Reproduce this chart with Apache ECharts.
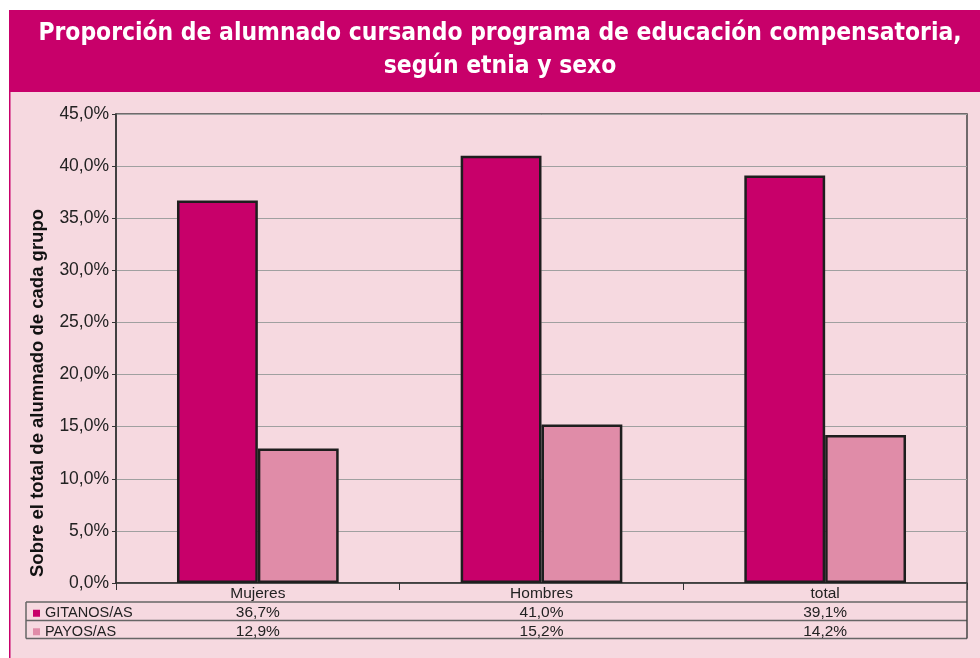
<!DOCTYPE html>
<html>
<head>
<meta charset="utf-8">
<script src="https://cdn.jsdelivr.net/npm/echarts@6/dist/echarts.min.js"></script>
<style>
html,body{margin:0;padding:0;background:#fff;}
#c{width:980px;height:658px;}
</style>
</head>
<body>
<div id="c"></div>
<script>
var categories = ['Mujeres', 'Hombres', 'total'];
var seriesNames = ['GITANOS/AS', 'PAYOS/AS'];
var gitanos = [36.7, 41.0, 39.1];
var payos = [12.9, 15.2, 14.2];
var titleLines = ['Proporción de alumnado cursando programa de educación compensatoria,', 'según etnia y sexo'];
var yAxisTitle = 'Sobre el total de alumnado de cada grupo';

var MAGENTA = '#C8006A';
var LIGHT = '#E08CA8';
var BG = '#F6D9E0';

function pct(v) { return v.toFixed(1).replace('.', ',') + '%'; }

var chart = echarts.init(document.getElementById('c'), null, {renderer: 'canvas'});

var tableLine = {stroke: '#666', lineWidth: 1.5};
var titleFont = 'bold 24.4px "DejaVu Sans Condensed", "DejaVu Sans", sans-serif';

var option = {
  backgroundColor: '#ffffff',
  animation: false,
  textStyle: {fontFamily: 'Liberation Sans, Arial, sans-serif'},
  grid: {
    left: 116, right: 13, top: 114, bottom: 75,
    show: true, borderColor: '#444', borderWidth: 1.5, backgroundColor: 'transparent'
  },
  legend: {
    orient: 'vertical', left: 33, top: 604, padding: 0, itemGap: 0,
    itemWidth: 7, itemHeight: 7, icon: 'rect',
    itemStyle: {borderWidth: 0},
    textStyle: {fontSize: 14.5, color: '#222', lineHeight: 18.5},
    data: seriesNames
  },
  xAxis: {
    type: 'category', data: categories,
    axisLine: {lineStyle: {color: '#333', width: 1.5}},
    axisTick: {show: true, length: 7, lineStyle: {color: '#333', width: 1}},
    axisLabel: {
      margin: 1, interval: 0,
      formatter: function (v, i) {
        return '{c|' + v + '}\n{v|' + pct(gitanos[i]) + '}\n{v|' + pct(payos[i]) + '}';
      },
      rich: {
        c: {fontSize: 15.5, color: '#222', lineHeight: 19.5},
        v: {fontSize: 15.5, color: '#222', lineHeight: 19}
      }
    }
  },
  yAxis: {
    type: 'value', min: 0, max: 45, interval: 5,
    axisLine: {show: true, lineStyle: {color: '#333', width: 1.5}},
    axisTick: {show: true, length: 4, lineStyle: {color: '#333'}},
    axisLabel: {margin: 7, fontSize: 17.5, color: '#222', formatter: function (v) { return pct(v); }},
    splitLine: {lineStyle: {color: '#a0a0a0', width: 1}}
  },
  series: [
    {
      name: seriesNames[0], type: 'bar', data: gitanos,
      barGap: '0%', barCategoryGap: '43%',
      itemStyle: {color: MAGENTA, borderColor: '#1e1e1e', borderWidth: 2.5}
    },
    {
      name: seriesNames[1], type: 'bar', data: payos,
      itemStyle: {color: LIGHT, borderColor: '#1e1e1e', borderWidth: 2.5}
    }
  ],
  graphic: [
    {type: 'rect', z: -10, silent: true, shape: {x: 9, y: 92, width: 971, height: 566}, style: {fill: BG}},
    {type: 'rect', z: -9, silent: true, shape: {x: 9, y: 92, width: 1.5, height: 566}, style: {fill: MAGENTA}},
    {type: 'rect', z: -9, silent: true, shape: {x: 9, y: 10, width: 971, height: 82}, style: {fill: MAGENTA}},
    {type: 'text', silent: true, x: 500, y: 34, style: {
      text: titleLines[0], fill: '#fff', align: 'center', verticalAlign: 'middle', font: titleFont}},
    {type: 'text', silent: true, x: 500, y: 67, style: {
      text: titleLines[1], fill: '#fff', align: 'center', verticalAlign: 'middle', font: titleFont}},
    {type: 'text', silent: true, x: 38, y: 393, rotation: Math.PI / 2, style: {
      text: yAxisTitle, fill: '#111', align: 'center', verticalAlign: 'middle',
      font: 'bold 18.5px "Liberation Sans", Arial, sans-serif'}},
    {type: 'line', silent: true, shape: {x1: 26, y1: 602, x2: 967, y2: 602}, style: tableLine},
    {type: 'line', silent: true, shape: {x1: 26, y1: 620.5, x2: 967, y2: 620.5}, style: tableLine},
    {type: 'line', silent: true, shape: {x1: 26, y1: 638.5, x2: 967, y2: 638.5}, style: tableLine},
    {type: 'line', silent: true, shape: {x1: 26, y1: 602, x2: 26, y2: 638.5}, style: tableLine},
    {type: 'line', silent: true, shape: {x1: 967, y1: 583, x2: 967, y2: 638.5}, style: {stroke: '#444', lineWidth: 1.5}}
  ]
};
chart.setOption(option);
</script>
</body>
</html>
